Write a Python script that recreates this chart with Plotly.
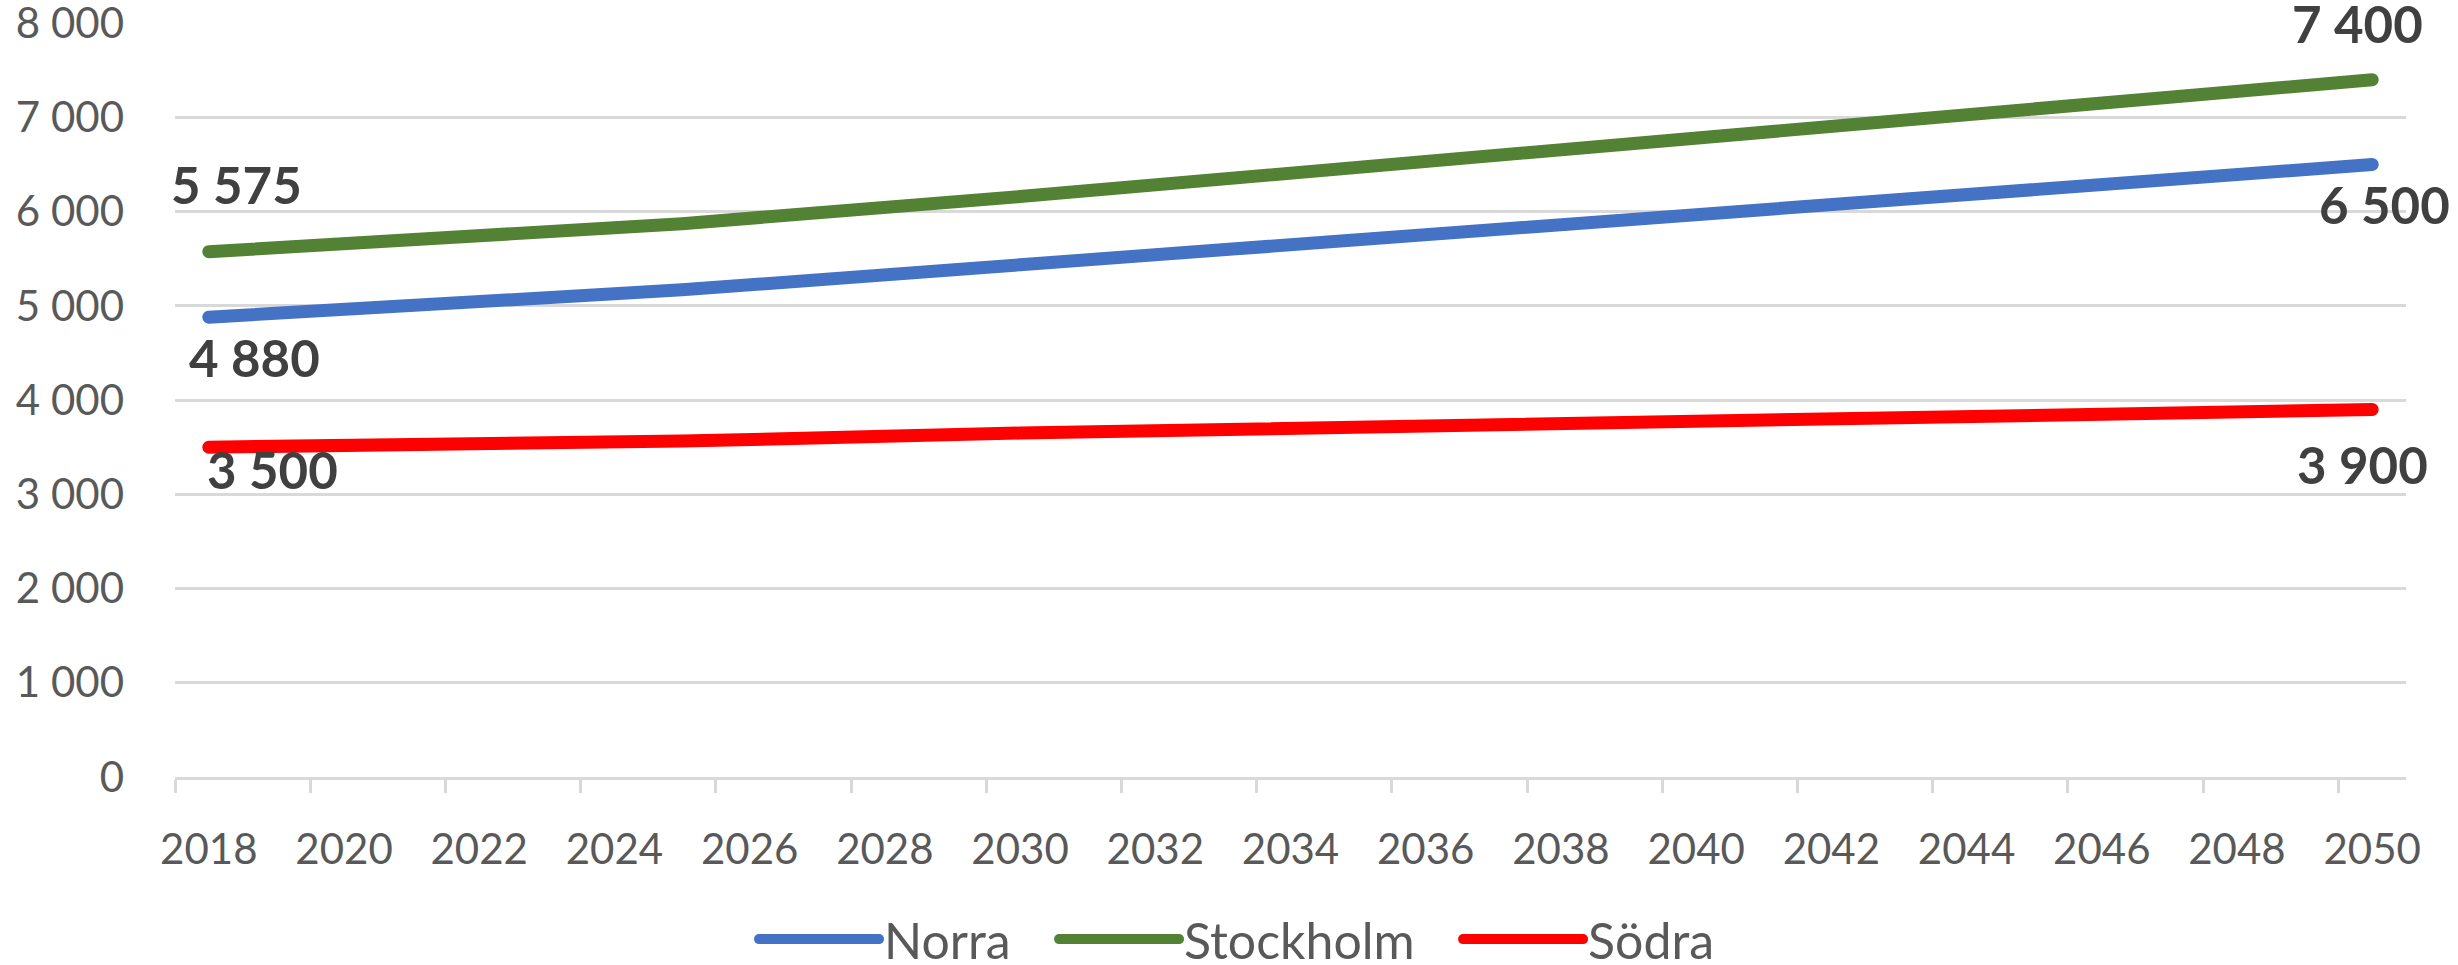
import plotly.graph_objects as go

years = [2018, 2025, 2030, 2035, 2040, 2045, 2050]
norra = [4880, 5170, 5436, 5702, 5950, 6234, 6500]
stockholm = [5575, 5872, 6160, 6468, 6787, 7117, 7400]
sodra = [3500, 3565, 3650, 3713, 3787, 3850, 3900]

series = [
    ("Norra", norra, "#4472C4"),
    ("Stockholm", stockholm, "#548235"),
    ("Södra", sodra, "#FF0000"),
]

tick_years = list(range(2018, 2051, 2))
boundaries = [y - 0.5 for y in tick_years]

FONT = "Lato"
GREY = "#595959"
GRID = "#D9D9D9"
PAD = "\u00a0" * 3  # gap after each legend entry

fig = go.Figure()
for name, vals, color in series:
    fig.add_trace(go.Scatter(
        x=years, y=vals, name=name + PAD, mode="lines",
        line=dict(color=color, width=13),
    ))

def fmt(v):
    return f"{v:,}".replace(",", " ")

# label offsets (px) for first / last points: (dx, dy) with dy positive = down
offsets = {
    "Norra": ((46, 40), (12, 40)),
    "Stockholm": ((28, -67), (-15, -56)),
    "Södra": ((64, 22), (-10, 55)),
}
for name, vals, color in series:
    first, last = offsets[name]
    for (x, v), (dx, dy) in (((years[0], vals[0]), first), ((years[-1], vals[-1]), last)):
        fig.add_annotation(
            x=x, y=v, xref="x", yref="y", text=fmt(v), showarrow=False,
            xshift=dx, yshift=-dy,
            font=dict(family=FONT, size=51, color="#404040", weight="bold"),
        )

fig.update_layout(
    width=2458, height=965,
    margin=dict(l=175, r=52, t=23, b=188, autoexpand=False),
    paper_bgcolor="white", plot_bgcolor="white",
    separators=", ",
    font=dict(family=FONT, size=42, color=GREY),
    showlegend=True,
    legend=dict(
        orientation="h", x=0.511, xanchor="center", xref="container",
        y=-0.215, yanchor="middle",
        font=dict(family=FONT, size=50, color=GREY),
        itemwidth=120, tracegroupgap=0,
    ),
    xaxis=dict(
        range=[2017.5, 2050.5],
        tickmode="array", tickvals=tick_years,
        ticks="", showgrid=False, zeroline=False,
        showline=True, linecolor=GRID, linewidth=3,
        ticklabelstandoff=34, ticklabeloverflow="allow",
        tickfont=dict(family=FONT, size=42, color=GREY),
        minor=dict(tickmode="array", tickvals=boundaries, ticks="outside",
                   ticklen=13, tickwidth=3, tickcolor=GRID, showgrid=False),
    ),
    yaxis=dict(
        range=[0, 8002], tickmode="array", tickvals=list(range(0, 8001, 1000)),
        tickformat=",d",
        showgrid=True, gridcolor=GRID, gridwidth=3,
        zeroline=False, showline=False, ticks="",
        ticklabelstandoff=50, ticklabeloverflow="allow",
        tickfont=dict(family=FONT, size=42, color=GREY),
    ),
)

# drop the browser's default body margin and round the line ends like Excel
js = """
document.body.style.margin='0';
document.querySelectorAll('.scatterlayer .js-line, .legendlines path')
    .forEach(function(p){ p.style.strokeLinecap='round'; });
"""
fig.write_html("out.html", post_script=js, config={"displayModeBar": False})
